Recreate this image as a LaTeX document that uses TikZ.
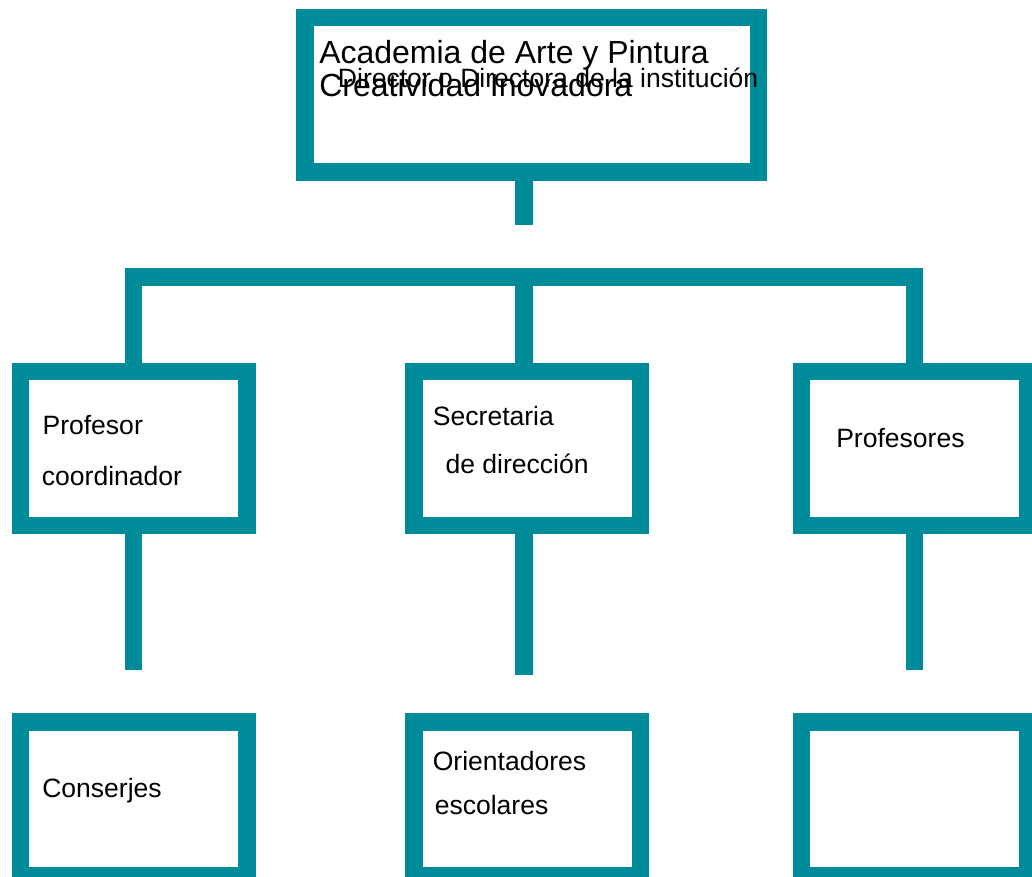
\documentclass[tikz,border=0pt]{standalone}
\usepackage{fontspec}
\setmainfont{Liberation Sans}
\definecolor{tealc}{HTML}{008B9B}
\begin{document}
\begin{tikzpicture}[x=0.75pt,y=-0.75pt,
  orgbox/.style={draw=tealc, line width=13.125pt, fill=white, rectangle,
     minimum width=169.875pt, minimum height=115.5pt, inner sep=0pt},
  topbox/.style={orgbox, minimum width=340.125pt, minimum height=115.875pt},
  conn/.style={draw=tealc, line width=13.125pt, line cap=butt, line join=miter},
  lbl/.style={font=\fontsize{19.9pt}{24pt}\selectfont, anchor=base west, inner sep=0pt, text=black},
  ttl/.style={font=\fontsize{24pt}{28pt}\selectfont, anchor=base west, inner sep=0pt, text=black}]
\useasboundingbox (0,0) rectangle (1032,877);

% boxes
\node[topbox] (top) at (531.5,95) {};
\node[orgbox] (pc) at (133.5,448.5) {};
\node[orgbox] (ps) at (527,448.5) {};
\node[orgbox] (pp) at (914.5,448.5) {};
\node[orgbox] (bc) at (133.5,799) {};
\node[orgbox] (bo) at (527,799) {};
\node[orgbox] (bx) at (914.5,799) {};

% helper coordinates
\coordinate (stemT) at (524,225);
\coordinate (bar) at (524,277);
\coordinate (endL) at (133.5,669.7);
\coordinate (endM) at (524,675);
\coordinate (endR) at (914.5,669.7);

% connectors
\draw[conn] (top.south -| stemT) -- (stemT);
\draw[conn] (pc.north) -- (pc.north |- bar) -- (bar -| pp.north) -- (pp.north);
\draw[conn] (bar) -- (bar |- ps.north);
\draw[conn] (pc.south) -- (endL);
\draw[conn] (ps.south -| endM) -- (endM);
\draw[conn] (pp.south) -- (endR);

% texts
\node[ttl] (t1) at (319,64) {Academia de Arte y Pintura};
\node[ttl] (t2) at (319,96.7) {Creatividad Inovadora};
\node[lbl] (t3) at (337.7,87.3) {Director o Directora de la institución};
\node[lbl] (l1) at (42.3,434) {Profesor};
\node[lbl] (l2) at (41.7,485.3) {coordinador};
\node[lbl] (l3) at (432.7,425.7) {Secretaria};
\node[lbl] (l4) at (445.3,473.3) {de dirección};
\node[lbl] (l5) at (836,447) {Profesores};
\node[lbl] (l6) at (42,797) {Conserjes};
\node[lbl] (l7) at (432.5,770.7) {Orientadores};
\node[lbl] (l8) at (434.5,814.7) {escolares};
\end{tikzpicture}
\end{document}
